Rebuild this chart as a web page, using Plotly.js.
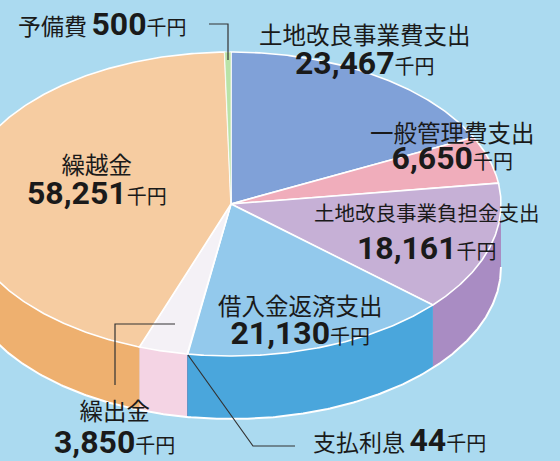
<!DOCTYPE html>
<html>
<head>
<meta charset="utf-8">
<script src="https://cdn.plot.ly/plotly-3.0.1.min.js"></script>
<style>html,body{margin:0;padding:0;background:#abdaf0;}#chart{width:560px;height:461px;}</style>
</head>
<body>
<div id="chart"></div>
<script>
// ---- data ----
const categories = ['土地改良事業費支出', '一般管理費支出', '土地改良事業負担金支出', '借入金返済支出', '支払利息', '繰出金', '繰越金', '予備費'];
const values = [23467, 6650, 18161, 21130, 44, 3850, 58251, 500];
const valueLabels = ['23,467', '6,650', '18,161', '21,130', '44', '3,850', '58,251', '500'];
const unit = '千円';

// ---- styles ----
const topColors  = ['#80a1d8', '#f0adbb', '#c6b0d6', '#93c9ec', '#2f6fb0', '#f4f1f6', '#f6cca1', '#b9e3a7'];
const sideColors = ['#6f90c8', '#e095a6', '#a98cc3', '#4aa6dc', '#2f6fb0', '#f4d4e4', '#eeb06f', '#9fcf8c'];

// geometry of the tilted pie (pixel space)
const cx = 231, cy = 204, rx = 270, ry = 152, depth = 63;
const total = values.reduce((a, b) => a + b, 0);

function arc(t1, t2, dy) {
  const n = Math.max(2, Math.ceil(Math.abs(t2 - t1) / (Math.PI / 360)) + 1);
  const xs = [], ys = [];
  for (let k = 0; k < n; k++) {
    const t = t1 + (t2 - t1) * k / (n - 1);
    xs.push(cx + rx * Math.sin(t));
    ys.push(cy - ry * Math.cos(t) + dy);
  }
  return [xs, ys];
}

const angles = [];
let cum = 0;
values.forEach(v => { const a1 = cum / total * 2 * Math.PI; cum += v; angles.push([a1, cum / total * 2 * Math.PI]); });

const sideTraces = [], topTraces = [];
angles.forEach(([a1, a2], i) => {
  const t1 = Math.max(a1, Math.PI / 2), t2 = Math.min(a2, 3 * Math.PI / 2);
  if (t2 > t1) {
    const [ux, uy] = arc(t1, t2, 0);
    const [lx, ly] = arc(t2, t1, depth);
    sideTraces.push({
      type: 'scatter', mode: 'lines', x: ux.concat(lx), y: uy.concat(ly),
      fill: 'toself', fillcolor: sideColors[i], line: {width: 0.5, color: sideColors[i]},
      hoverinfo: 'skip', showlegend: false, name: categories[i]
    });
  }
  const [ax, ay] = arc(a1, a2, 0);
  topTraces.push({
    type: 'scatter', mode: 'lines', x: [cx].concat(ax, [cx]), y: [cy].concat(ay, [cy]),
    fill: 'toself', fillcolor: topColors[i], line: {width: values[i] / total < 0.01 ? 0.6 : 1.6, color: '#ffffff'},
    hoverinfo: 'skip', showlegend: false, name: categories[i]
  });
});
const [bx, by] = arc(Math.PI / 2, 3 * Math.PI / 2, depth);
const rimTrace = {type: 'scatter', mode: 'lines', x: bx, y: by, line: {width: 2, color: '#ffffff'}, hoverinfo: 'skip', showlegend: false};

const CJK = 'Noto Sans CJK JP';
function nameSpan(i, size) { return '<span style="font-family:' + CJK + ';font-size:' + size + 'px">' + categories[i] + '</span>'; }
function numSpan(i) {
  return '<span style="font-family:Roboto;font-weight:bold;font-size:32px">' + valueLabels[i] + '</span>' +
         '<span style="font-family:' + CJK + ';font-size:20px">' + unit + '</span>';
}
// two-line label; lineGap = distance between the two baselines
function label(i, x, y, lineGap, nameSize) {
  return {x: x, y: y, text: nameSpan(i, nameSize) + '<br>' + numSpan(i), showarrow: false,
          font: {family: CJK, size: lineGap / 1.3, color: '#1a1a1a'}, xanchor: 'center', yanchor: 'middle', align: 'center'};
}
function inline(i, x, y, yanchor) {
  return {x: x, y: y, text: nameSpan(i, 23) + ' ' + numSpan(i), showarrow: false,
          font: {family: CJK, size: 20, color: '#1a1a1a'}, xanchor: 'left', yanchor: yanchor};
}

const annotations = [
  label(0, 365, 49, 30, 23.5),
  label(1, 452, 146, 27, 23.5),
  label(2, 427, 232, 38, 20.5),
  label(3, 300, 320, 29, 23.5),
  label(6, 97, 179, 30, 23.5),
  label(5, 114, 427, 33, 23.5),
  inline(4, 311, 461, 'bottom'),
  inline(7, 16, 24, 'middle')
];

const leader = {type: 'path', xref: 'x', yref: 'y', line: {color: '#333333', width: 1.2}};
const shapes = [
  Object.assign({}, leader, {path: 'M209,24 L228,24 L228,60'}),
  Object.assign({}, leader, {path: 'M175,324 L115,324 L115,385'}),
  Object.assign({}, leader, {path: 'M188,355 L253,446 L295,446'})
];

const layout = {
  width: 560, height: 461,
  margin: {l: 0, r: 0, t: 0, b: 0},
  paper_bgcolor: '#abdaf0', plot_bgcolor: '#abdaf0',
  xaxis: {range: [0, 560], visible: false, fixedrange: true},
  yaxis: {range: [461, 0], visible: false, fixedrange: true},
  annotations: annotations, shapes: shapes, showlegend: false
};
Plotly.newPlot('chart', sideTraces.concat([rimTrace], topTraces), layout, {displayModeBar: false, staticPlot: true});
</script>
</body>
</html>
